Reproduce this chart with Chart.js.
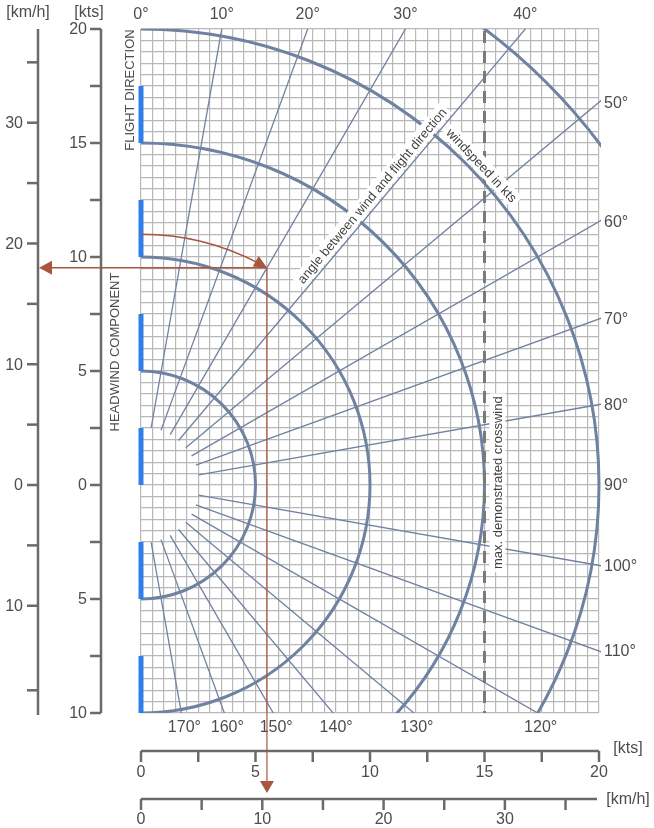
<!DOCTYPE html>
<html>
<head>
<meta charset="utf-8">
<script src="https://cdn.jsdelivr.net/npm/chart.js@4.4.0/dist/chart.umd.min.js"></script>
<style>
  html, body { margin: 0; padding: 0; background: #fff; }
</style>
</head>
<body>
<canvas id="myChart" width="654" height="828"></canvas>
<script>
// wind speed circles (kts) and wind angle rays (deg from flight direction)
var windRadii = [5, 10, 15, 20, 25];
var rayAngles = [10, 20, 30, 40, 50, 60, 70, 80, 100, 110, 120, 130, 140, 150, 160, 170];
var rayStart = 2.55;
var topAngleLabels = [0, 10, 20, 30, 40];
var rightAngleLabels = [50, 60, 70, 80, 90, 100, 110];
var bottomAngleLabels = [120, 130, 140, 150, 160, 170];

// blue marks along the flight direction axis, [from, to] in kts
var blueMarks = [[15, 17.5], [10, 12.5], [5, 7.5], [0, 2.5], [-5, -2.5], [-10, -7.5]];

// axis ticks
var ktsLeftTicks = [20, 17.5, 15, 12.5, 10, 7.5, 5, 2.5, 0, -2.5, -5, -7.5, -10];
var ktsLeftLabels = [20, 15, 10, 5, 0, -5, -10];
var kmhLeftTicks = [35, 30, 25, 20, 15, 10, 5, 0, -5, -10, -17];
var kmhLeftLabels = [30, 20, 10, 0, -10];
var ktsBottomTicks = [0, 2.5, 5, 7.5, 10, 12.5, 15, 17.5, 20];
var ktsBottomLabels = [0, 5, 10, 15, 20];
var kmhBottomTicks = [0, 5, 10, 15, 20, 25, 30, 35];
var kmhBottomLabels = [0, 10, 20, 30];
var kmhPerKt = 1.888;

// example reading: 11 kts wind at 30 deg, max demonstrated crosswind 15 kts
var exampleWind = 11;
var exampleAngle = 30;
var maxCrosswind = 15;

var lineBlue = '#6f82a1';
var axisGrey = '#6b6b66';
var textGrey = '#4d4d4d';
var red = '#a9553f';
var fontName = '"Liberation Sans", Arial, sans-serif';

function rad(d) { return d * Math.PI / 180; }

function arrowHead(ctx, tx, ty, dx, dy, len, half) {
    var bx = tx - dx * len, by = ty - dy * len;
    ctx.beginPath();
    ctx.moveTo(tx, ty);
    ctx.lineTo(bx - dy * half, by + dx * half);
    ctx.lineTo(bx + dy * half, by - dx * half);
    ctx.closePath();
    ctx.fill();
}

function boxedText(ctx, text, cx, cy, angle) {
    ctx.save();
    ctx.translate(cx, cy);
    ctx.rotate(angle);
    ctx.font = '13px ' + fontName;
    var w = ctx.measureText(text).width;
    ctx.fillStyle = '#fff';
    ctx.fillRect(-w / 2 - 3, -8, w + 6, 16);
    ctx.fillStyle = '#3f3f3f';
    ctx.textAlign = 'center';
    ctx.textBaseline = 'middle';
    ctx.fillText(text, 0, 1);
    ctx.restore();
}

var windPlugin = {
    id: 'wind',
    beforeDatasetsDraw: function(chart) {
        var ctx = chart.ctx, xs = chart.scales.x, ys = chart.scales.y, a = chart.chartArea;
        var ox = xs.getPixelForValue(0), oy = ys.getPixelForValue(0);
        function P(r, deg) {
            return [xs.getPixelForValue(r * Math.sin(rad(deg))), ys.getPixelForValue(r * Math.cos(rad(deg)))];
        }

        ctx.save();
        ctx.beginPath();
        ctx.rect(a.left, a.top, a.right - a.left + 2, a.bottom - a.top);
        ctx.clip();

        // rays
        ctx.strokeStyle = lineBlue;
        ctx.lineWidth = 1.3;
        rayAngles.forEach(function(d) {
            var p0 = P(rayStart, d), p1 = P(40, d);
            ctx.beginPath();
            ctx.moveTo(p0[0], p0[1]);
            ctx.lineTo(p1[0], p1[1]);
            ctx.stroke();
        });

        // circles
        ctx.lineWidth = 3;
        windRadii.forEach(function(r) {
            var rx = xs.getPixelForValue(r) - ox, ry = oy - ys.getPixelForValue(r);
            ctx.beginPath();
            ctx.ellipse(ox, oy, rx, ry, 0, -Math.PI / 2, Math.PI / 2);
            ctx.stroke();
        });

        // max demonstrated crosswind
        var cx = xs.getPixelForValue(maxCrosswind);
        ctx.strokeStyle = '#7a7a78';
        ctx.lineWidth = 3;
        ctx.setLineDash([12, 8]);
        ctx.beginPath();
        ctx.moveTo(cx, a.top + 2);
        ctx.lineTo(cx, a.bottom);
        ctx.stroke();
        ctx.setLineDash([]);
        ctx.restore();

        // blue marks
        ctx.save();
        ctx.strokeStyle = '#2f7ee9';
        ctx.lineWidth = 5;
        blueMarks.forEach(function(m) {
            ctx.beginPath();
            ctx.moveTo(ox, ys.getPixelForValue(m[0]));
            ctx.lineTo(ox, ys.getPixelForValue(m[1]));
            ctx.stroke();
        });
        ctx.restore();

        // example reading
        ctx.save();
        ctx.strokeStyle = red;
        ctx.fillStyle = red;
        var rxw = xs.getPixelForValue(exampleWind) - ox, ryw = oy - ys.getPixelForValue(exampleWind);
        var tip = P(exampleWind, exampleAngle);
        ctx.lineWidth = 1.5;
        ctx.beginPath();
        ctx.ellipse(ox, oy, rxw, ryw, 0, -Math.PI / 2, -Math.PI / 2 + rad(exampleAngle) - 0.04);
        ctx.stroke();
        arrowHead(ctx, tip[0], tip[1], Math.cos(rad(exampleAngle)), Math.sin(rad(exampleAngle)), 13, 6);

        var leftAxisX = 38;
        ctx.beginPath();
        ctx.moveTo(tip[0], tip[1]);
        ctx.lineTo(leftAxisX + 12, tip[1]);
        ctx.stroke();
        arrowHead(ctx, leftAxisX + 1, tip[1], -1, 0, 13, 7);

        var bottomAxisY = 799;
        ctx.lineWidth = 1.2;
        ctx.beginPath();
        ctx.moveTo(tip[0], tip[1]);
        ctx.lineTo(tip[0], bottomAxisY - 16);
        ctx.stroke();
        arrowHead(ctx, tip[0], bottomAxisY - 6, 0, 1, 12, 7);
        ctx.restore();

        // labels on the chart
        var t1 = P(16.2, 40);
        var n1 = [-Math.cos(rad(40)), -Math.sin(rad(40))];
        boxedText(ctx, 'angle between wind and flight direction', t1[0] + n1[0] * 10, t1[1] + n1[1] * 10, -rad(50));
        var t2 = P(20.45, 46.7);
        boxedText(ctx, 'windspeed in kts', t2[0], t2[1], rad(46.7));
        boxedText(ctx, 'max. demonstrated crosswind', cx + 13, ys.getPixelForValue(0.1), -Math.PI / 2);
    },
    afterDraw: function(chart) {
        var ctx = chart.ctx, xs = chart.scales.x, ys = chart.scales.y, a = chart.chartArea;
        ctx.save();
        ctx.strokeStyle = axisGrey;
        ctx.fillStyle = textGrey;
        ctx.lineWidth = 2.5;
        ctx.font = '16px ' + fontName;

        // left km/h axis
        var kmhX = 38;
        ctx.beginPath();
        ctx.moveTo(kmhX, a.top);
        ctx.lineTo(kmhX, a.bottom + 2);
        ctx.stroke();
        kmhLeftTicks.forEach(function(v) {
            var y = ys.getPixelForValue(v / kmhPerKt);
            ctx.beginPath();
            ctx.moveTo(kmhX - 11, y);
            ctx.lineTo(kmhX, y);
            ctx.stroke();
        });
        ctx.textAlign = 'right';
        ctx.textBaseline = 'middle';
        kmhLeftLabels.forEach(function(v) {
            ctx.fillText(String(Math.abs(v)), 23, ys.getPixelForValue(v / kmhPerKt) + 1);
        });

        // left kts axis
        var ktsX = 101;
        ctx.beginPath();
        ctx.moveTo(ktsX, a.top);
        ctx.lineTo(ktsX, a.bottom);
        ctx.stroke();
        ktsLeftTicks.forEach(function(v) {
            var y = ys.getPixelForValue(v);
            ctx.beginPath();
            ctx.moveTo(ktsX - 11, y);
            ctx.lineTo(ktsX, y);
            ctx.stroke();
        });
        ktsLeftLabels.forEach(function(v) {
            ctx.fillText(String(Math.abs(v)), 87, ys.getPixelForValue(v) + 1);
        });

        // bottom kts axis
        var ktsY = 751;
        ctx.beginPath();
        ctx.moveTo(a.left, ktsY);
        ctx.lineTo(a.right, ktsY);
        ctx.stroke();
        ktsBottomTicks.forEach(function(v) {
            var x = xs.getPixelForValue(v);
            ctx.beginPath();
            ctx.moveTo(x, ktsY);
            ctx.lineTo(x, ktsY + 11);
            ctx.stroke();
        });
        ctx.textAlign = 'center';
        ktsBottomLabels.forEach(function(v) {
            ctx.fillText(String(v), xs.getPixelForValue(v), 773);
        });

        // bottom km/h axis
        var kmhY = 799;
        ctx.beginPath();
        ctx.moveTo(a.left, kmhY);
        ctx.lineTo(a.right - 2, kmhY);
        ctx.stroke();
        kmhBottomTicks.forEach(function(v) {
            var x = xs.getPixelForValue(v / kmhPerKt);
            ctx.beginPath();
            ctx.moveTo(x, kmhY);
            ctx.lineTo(x, kmhY + 11);
            ctx.stroke();
        });
        kmhBottomLabels.forEach(function(v) {
            ctx.fillText(String(v), xs.getPixelForValue(v / kmhPerKt), 820);
        });

        // units
        ctx.fillText('[km/h]', 28, 13);
        ctx.fillText('[kts]', 89, 13);
        ctx.fillText('[kts]', 628, 749);
        ctx.fillText('[km/h]', 628, 800);

        // angle labels
        topAngleLabels.forEach(function(d) {
            ctx.fillText(d + '\u00b0', xs.getPixelForValue(20 * Math.tan(rad(d))), 15);
        });
        bottomAngleLabels.forEach(function(d) {
            ctx.fillText(d + '\u00b0', xs.getPixelForValue(10 * Math.tan(rad(180 - d))) + 3, 728);
        });
        ctx.textAlign = 'left';
        rightAngleLabels.forEach(function(d) {
            ctx.fillText(d + '\u00b0', 604, ys.getPixelForValue(20 / Math.tan(rad(d))) + 1);
        });

        // axis titles
        ctx.font = '13px ' + fontName;
        ctx.textAlign = 'center';
        ctx.save();
        ctx.translate(130, 90);
        ctx.rotate(-Math.PI / 2);
        ctx.fillText('FLIGHT DIRECTION', 0, 0);
        ctx.restore();
        ctx.save();
        ctx.translate(115, 352);
        ctx.rotate(-Math.PI / 2);
        ctx.fillText('HEADWIND COMPONENT', 0, 0);
        ctx.restore();
        ctx.restore();
    }
};

var ctx = document.getElementById('myChart').getContext('2d');
var crosswindChart = new Chart(ctx, {
    type: 'scatter',
    data: { datasets: [] },
    options: {
        responsive: false,
        animation: false,
        layout: { padding: { left: 141, right: 55, top: 29, bottom: 115 } },
        plugins: { legend: { display: false }, tooltip: { enabled: false } },
        scales: {
            x: {
                type: 'linear', min: 0, max: 20,
                ticks: { display: false, stepSize: 0.5 },
                grid: { color: '#b8b8b8', lineWidth: 1.2, drawTicks: false },
                border: { display: false }
            },
            y: {
                type: 'linear', min: -10, max: 20,
                ticks: { display: false, stepSize: 0.5 },
                grid: { color: '#b8b8b8', lineWidth: 1.2, drawTicks: false },
                border: { display: false }
            }
        }
    },
    plugins: [windPlugin]
});
</script>
</body>
</html>
